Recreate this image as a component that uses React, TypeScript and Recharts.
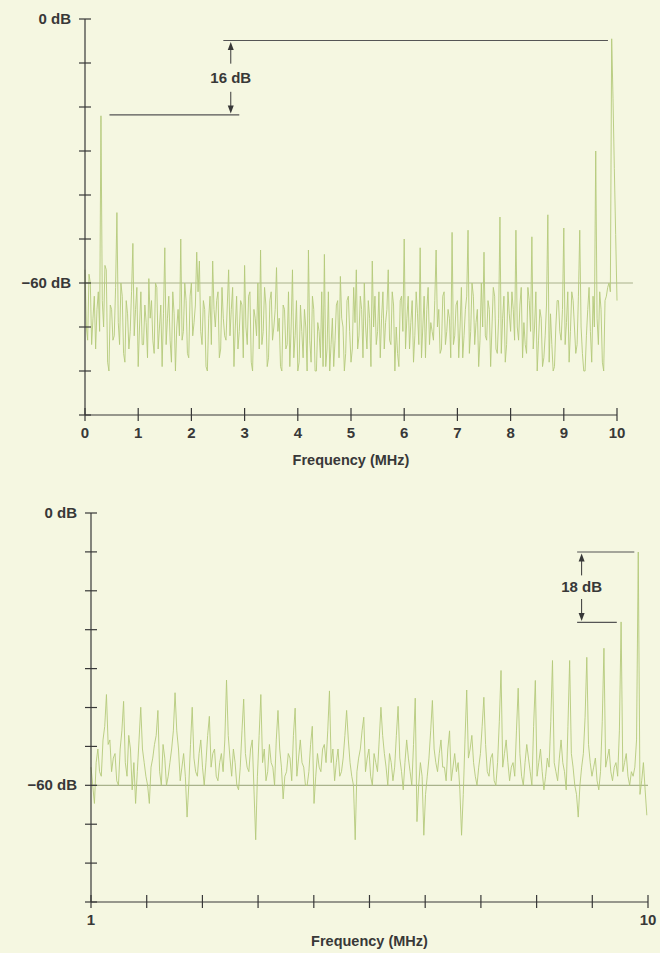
import { LineChart, Line, XAxis, YAxis, ReferenceLine, ReferenceDot } from "recharts";

// upper plot: level (dB) every 0.025 MHz from 0 to 10 MHz
const TOP_FREQ_STEP = 0.025;
const TOP_LEVELS = [
  -57, -70, -73, -58, -60, -74, -68, -63, -75, -66, -62, -71,
  -22, -64, -70, -56, -57, -78, -80, -65, -66, -73, -72, -61,
  -44, -69, -74, -60, -63, -76, -78, -64, -67, -75, -71, -62,
  -51, -72, -66, -61, -79, -70, -62, -74, -74, -65, -69, -77,
  -59, -68, -64, -73, -76, -60, -61, -75, -70, -65, -79, -67,
  -52, -74, -68, -63, -73, -78, -62, -67, -80, -70, -66, -72,
  -50, -73, -71, -60, -64, -76, -77, -63, -60, -72, -69, -65,
  -53, -62, -55, -71, -74, -64, -66, -79, -80, -68, -63, -74,
  -55, -66, -70, -64, -62, -77, -75, -61, -68, -72, -73, -65,
  -57, -72, -66, -61, -79, -70, -63, -75, -71, -64, -65, -77,
  -56, -70, -74, -63, -62, -78, -80, -66, -68, -72, -60, -75,
  -52.5, -74, -71, -61, -65, -79, -77, -64, -62, -73, -70, -66,
  -56.5, -71, -68, -79, -80, -65, -66, -75, -74, -62, -79, -70,
  -57, -77, -72, -64, -80, -78, -65, -71, -77, -66, -70, -80,
  -52.5, -73, -78, -63, -66, -80, -80, -69, -71, -77, -62, -79,
  -53.5, -79, -75, -62, -80, -74, -68, -79, -73, -65, -64, -77,
  -58.5, -68, -70, -80, -76, -64, -63, -71, -78, -75, -61, -69,
  -57, -75, -72, -63, -66, -77, -60, -70, -75, -64, -68, -79,
  -55, -70, -63, -74, -71, -62, -77, -68, -62, -75, -69, -66,
  -57, -73, -74, -62, -65, -80, -70, -76, -79, -64, -63, -71,
  -50, -75, -68, -63, -75, -69, -64, -78, -72, -62, -67, -74,
  -52, -77, -70, -63, -77, -66, -61, -74, -69, -71, -73, -64,
  -52.5, -70, -66, -76, -75, -63, -62, -74, -71, -66, -68, -77,
  -48.5, -74, -72, -65, -64, -77, -70, -61, -77, -72, -66, -63,
  -48, -76, -71, -60, -63, -74, -69, -66, -79, -73, -60, -70,
  -53, -72, -73, -64, -66, -79, -70, -61, -63, -75, -76, -68,
  -45, -76, -68, -63, -78, -74, -62, -67, -71, -62, -66, -73,
  -48, -70, -73, -65, -61, -77, -69, -74, -76, -61, -64, -71,
  -49.5, -75, -70, -62, -80, -73, -66, -68, -79, -77, -72, -65,
  -44.5, -78, -67, -74, -80, -79, -70, -64, -64, -71, -73, -66,
  -47.5, -74, -69, -62, -78, -71, -62, -64, -70, -76, -74, -63,
  -48, -70, -76, -80, -80, -72, -66, -61, -71, -78, -63, -70,
  -30, -68, -74, -62, -66, -78, -80, -64, -63, -61, -60, -62,
  -4.5, -18, -34, -49, -64,
];

// lower plot: level (dB) every 0.00308 decade starting at 1 MHz
const BOTTOM_LOG_STEP = 0.00308;
const BOTTOM_LEVELS = [
  -56, -60, -64, -55, -52, -57, -58, -50, -47, -40,
  -51, -50, -57, -54, -53, -59, -60, -52, -48, -41.5,
  -55, -58, -49, -52, -61, -55, -64, -57, -50, -42.8,
  -52, -55, -58, -60, -64, -56, -54, -51, -49, -43.5,
  -57, -60, -51, -54, -60, -58, -55, -52, -48, -39.6,
  -48, -52, -59, -56, -53, -58, -67, -60, -51, -42.8,
  -54, -57, -58, -53, -50, -56, -60, -55, -49, -44.8,
  -56, -53, -52, -58, -59, -55, -53, -57, -50, -36.8,
  -49, -54, -58, -52, -55, -60, -61, -56, -48, -41,
  -53, -56, -57, -52, -50, -61, -72, -58, -49, -40,
  -55, -52, -59, -57, -51, -55, -56, -60, -50, -43.5,
  -52, -56, -63, -58, -57, -53, -54, -59, -49, -43,
  -58, -54, -50, -55, -56, -60, -60, -57, -51, -47,
  -64, -58, -53, -56, -57, -52, -51, -55, -48, -39.2,
  -55, -52, -59, -55, -52, -58, -57, -54, -49, -43.5,
  -50, -55, -58, -60, -72, -57, -54, -52, -48, -45,
  -57, -54, -52, -58, -60, -53, -55, -57, -50, -42.8,
  -49, -53, -56, -60, -53, -55, -59, -56, -49, -42.6,
  -54, -57, -61, -55, -50, -54, -57, -60, -51, -40.8,
  -68, -60, -55, -58, -71, -62, -58, -54, -48, -41.3,
  -52, -55, -57, -53, -50, -56, -56, -59, -52, -48,
  -59, -56, -53, -57, -55, -61, -71, -62, -50, -39,
  -54, -52, -49, -55, -58, -60, -56, -53, -47, -40.6,
  -51, -57, -58, -54, -53, -59, -60, -55, -46, -34.7,
  -56, -53, -50, -55, -59, -56, -55, -58, -48, -38.6,
  -53, -58, -60, -55, -51, -54, -57, -60, -47, -36.9,
  -58, -55, -52, -57, -61, -58, -54, -56, -46, -32.5,
  -55, -57, -59, -54, -50, -55, -57, -61, -47, -32.5,
  -53, -56, -60, -62, -67, -60, -56, -53, -45, -31.8,
  -51, -55, -58, -56, -54, -59, -61, -57, -46, -29.8,
  -56, -54, -52, -57, -59, -56, -55, -58, -48, -24,
  -57, -55, -53, -58, -60, -57, -58, -56, -50, -8.6,
  -62, -59, -55, -61, -66.6,
];

const TOP_FREQ_TICKS = [0, 1, 2, 3, 4, 5, 6, 7, 8, 9, 10];
const TOP_DB_TICKS = [0, -10, -20, -30, -40, -50, -60, -70, -80, -90];
const BOTTOM_FREQ_TICKS = [1, 1.259, 1.585, 1.995, 2.512, 3.162, 3.981, 5.012, 6.31, 7.943, 10];
const BOTTOM_DB_TICKS = [0, -8.57, -17.14, -25.71, -34.29, -42.86, -51.43, -60, -68.57, -77.14, -85.71];
const DB_LABELS: Record<string, string> = { "0": "0 dB", "-60": "\u221260 dB" };
const BOTTOM_FREQ_LABELS: Record<string, string> = { "1": "1", "10": "10" };
const REF_LEVEL = -60;

// "16 dB" / "18 dB" markers: level, start and end frequency of each bar
const TOP_MARKS = { high: -4.9, low: -21.8, highFrom: 2.6, highTo: 9.83, lowFrom: 0.46, lowTo: 2.9, arrowAt: 2.74, text: "16 dB" };
const BOTTOM_MARKS = { high: -8.6, low: -24.1, highFrom: 7.46, highTo: 9.45, lowFrom: 7.46, lowTo: 8.79, arrowAt: 7.6, text: "18 dB" };

const topData = TOP_LEVELS.map((db, i) => ({ f: +(i * TOP_FREQ_STEP).toFixed(3), db }));
const bottomData = BOTTOM_LEVELS.map((db, i) => ({ f: Math.pow(10, i * BOTTOM_LOG_STEP), db }));

const BG = "#f5f7e1";
const INK = "#383838";
const TRACE = "#b4ca7a";
const REF = "#a9b28c";
const TEXT = { fontSize: 15, fontWeight: 700, fill: INK };

function DbTick(props: any) {
  const { x, y, payload } = props;
  const label = DB_LABELS[String(payload.value)];
  return (
    <g>
      <line x1={x - 6} x2={x + 6} y1={y} y2={y} stroke={INK} strokeWidth={1.2} />
      {label ? (
        <text x={x - 14} y={y + 5} textAnchor="end" {...TEXT}>
          {label}
        </text>
      ) : null}
    </g>
  );
}

function FreqTick(props: any) {
  const { x, y, payload, labels } = props;
  const label = labels ? labels[String(payload.value)] : String(payload.value);
  return (
    <g>
      <line x1={x} x2={x} y1={y - 7} y2={y + 6} stroke={INK} strokeWidth={1.2} />
      {label ? (
        <text x={x} y={y + 23} textAnchor="middle" {...TEXT}>
          {label}
        </text>
      ) : null}
    </g>
  );
}

const arrowHead = (up: boolean) => (p: any) => (
  <path d={`M${p.cx},${p.cy} l-3,${up ? 8 : -8} l6,0 z`} fill={INK} />
);

function Marks({ m, gap }: { m: typeof TOP_MARKS; gap: number }) {
  const mid = (m.high + m.low) / 2;
  return [
    <ReferenceLine key="hi" segment={[{ x: m.highFrom, y: m.high }, { x: m.highTo, y: m.high }]} stroke="#555" strokeWidth={1.1} ifOverflow="visible" />,
    <ReferenceLine key="lo" segment={[{ x: m.lowFrom, y: m.low }, { x: m.lowTo, y: m.low }]} stroke="#555" strokeWidth={1.1} ifOverflow="visible" />,
    <ReferenceLine key="s1" segment={[{ x: m.arrowAt, y: m.high - 1 }, { x: m.arrowAt, y: mid + gap }]} stroke={INK} strokeWidth={1} ifOverflow="visible" />,
    <ReferenceLine key="s2" segment={[{ x: m.arrowAt, y: mid - gap }, { x: m.arrowAt, y: m.low + 1 }]} stroke={INK} strokeWidth={1} ifOverflow="visible" />,
    <ReferenceDot key="a1" x={m.arrowAt} y={m.high - 0.3} shape={arrowHead(true)} ifOverflow="visible" />,
    <ReferenceDot key="a2" x={m.arrowAt} y={m.low + 0.3} shape={arrowHead(false)} ifOverflow="visible" />,
    <ReferenceDot
      key="t"
      x={m.arrowAt}
      y={mid}
      ifOverflow="visible"
      shape={(p: any) => (
        <text x={p.cx} y={p.cy + 5} textAnchor="middle" {...TEXT}>
          {m.text}
        </text>
      )}
    />,
  ];
}

export default function App() {
  return (
    <div
      style={{
        position: "absolute",
        left: 0,
        top: 0,
        width: 660,
        height: 953,
        background: BG,
        fontFamily: '"Liberation Sans", Arial, sans-serif',
        overflow: "hidden",
      }}
    >
      <div style={{ position: "absolute", left: 0, top: 0 }}>
        <LineChart width={660} height={488} data={topData} margin={{ top: 19, right: 43, bottom: 13, left: 0 }}>
          <XAxis
            dataKey="f"
            type="number"
            domain={[0, 10]}
            ticks={TOP_FREQ_TICKS}
            interval={0}
            height={60}
            tickSize={0}
            tickMargin={0}
            tickLine={false}
            stroke={INK}
            strokeWidth={1.2}
            tick={(p: any) => <FreqTick {...p} />}
            label={{ value: "Frequency (MHz)", position: "insideBottom", offset: 10, fontSize: 14.5, fontWeight: 700, fill: INK }}
          />
          <YAxis
            type="number"
            domain={[-90, 0]}
            ticks={TOP_DB_TICKS}
            interval={0}
            width={85}
            tickSize={0}
            tickMargin={0}
            tickLine={false}
            stroke={INK}
            strokeWidth={1.2}
            tick={(p: any) => <DbTick {...p} />}
          />
          <ReferenceLine segment={[{ x: 0, y: REF_LEVEL }, { x: 10.3, y: REF_LEVEL }]} stroke={REF} strokeWidth={1.2} ifOverflow="visible" />
          <Line dataKey="db" stroke={TRACE} strokeWidth={0.9} dot={false} isAnimationActive={false} />
          {Marks({ m: TOP_MARKS, gap: 3.2 })}
        </LineChart>
      </div>
      <div style={{ position: "absolute", left: 0, top: 488 }}>
        <LineChart width={660} height={465} data={bottomData} margin={{ top: 25, right: 12, bottom: 5, left: 0 }}>
          <XAxis
            dataKey="f"
            type="number"
            scale="log"
            domain={[1, 10]}
            ticks={BOTTOM_FREQ_TICKS}
            interval={0}
            height={46}
            tickSize={0}
            tickMargin={0}
            tickLine={false}
            stroke={INK}
            strokeWidth={1.2}
            tick={(p: any) => <FreqTick {...p} labels={BOTTOM_FREQ_LABELS} />}
            label={{ value: "Frequency (MHz)", position: "insideBottom", offset: 2, fontSize: 14.5, fontWeight: 700, fill: INK }}
          />
          <YAxis
            type="number"
            domain={[-85.71, 0]}
            ticks={BOTTOM_DB_TICKS}
            interval={0}
            width={91}
            tickSize={0}
            tickMargin={0}
            tickLine={false}
            stroke={INK}
            strokeWidth={1.2}
            tick={(p: any) => <DbTick {...p} />}
          />
          <ReferenceLine y={REF_LEVEL} stroke={REF} strokeWidth={1.2} />
          <Line dataKey="db" stroke={TRACE} strokeWidth={0.9} dot={false} isAnimationActive={false} />
          {Marks({ m: BOTTOM_MARKS, gap: 2.6 })}
        </LineChart>
      </div>
    </div>
  );
}
